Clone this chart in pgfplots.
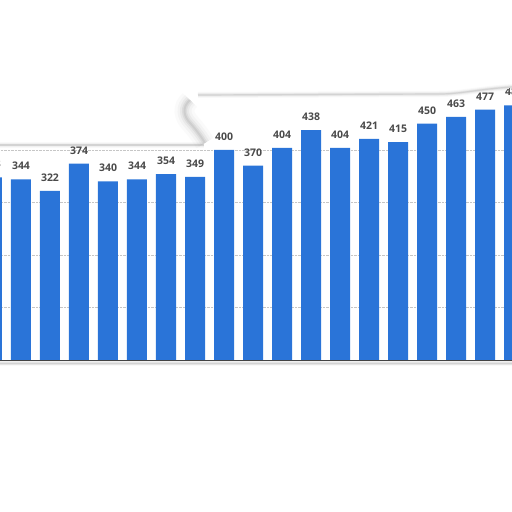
\documentclass[border=0pt]{standalone}
\usepackage{pgfplots}
\pgfplotsset{compat=1.18}
\usepackage{fontspec}
\setmainfont{Open Sans}
\definecolor{barblue}{HTML}{2A74D8}
\definecolor{lbl}{HTML}{4A4A4A}
\begin{document}
\begin{tikzpicture}[x=1pt,y=1pt]
\useasboundingbox (0,0) rectangle (512,512);
\begin{scope}
\clip (0,150) -- (512,150) -- (512,424) .. controls (480,422) and (460,417) .. (440,417) -- (200,416)
  .. controls (192,416) and (186,412) .. (186,405) .. controls (186,390) and (200,380) .. (206,366) -- (0,366) -- cycle;
\begin{axis}[
  at={(-37pt,152pt)}, anchor=south west,
  scale only axis, width=580pt, height=262.5pt,
  xmin=-1, xmax=19, ymin=0, ymax=500,
  axis line style={draw=none},
  xtick=\empty,
  ytick={100,200,300,400}, yticklabels={}, ytick style={draw=none},
  ymajorgrids, major grid style={densely dotted, gray!45, line width=0.6pt},
  ybar, bar width=20pt,
  nodes near coords,
  /pgf/number format/assume math mode=true,
  every node near coord/.append style={font=\bfseries\fontsize{10.5}{12}\selectfont, text=lbl, yshift=6pt, /pgf/number format/assume math mode=true},
  clip=false,
]
\addplot[fill=barblue, draw=none] coordinates {
(0,348) (1,344) (2,322) (3,374) (4,340) (5,344) (6,354) (7,349) (8,400) (9,370)
(10,404) (11,438) (12,404) (13,421) (14,415) (15,450) (16,463) (17,477) (18,485)};
\draw[black!75, line width=0.8pt] (axis cs:-1,0) -- (axis cs:19,0);
\end{axis}
\end{scope}
% torn paper shadows
\foreach \w/\o in {6/0.05, 4/0.07, 2.5/0.1, 1.2/0.18}{
  \draw[gray, line width=\w pt, opacity=\o] (0,367) -- (204,367);
  \draw[gray, line width=\w pt, opacity=\o] (0,148.5) -- (512,148.5);
  \draw[gray, line width=\w pt, opacity=\o] (198,417) -- (440,418) .. controls (460,418) and (480,423) .. (512,425);
}
\foreach \w/\o in {20/0.04, 14/0.06, 9/0.09, 5/0.12, 2/0.15}{
  \draw[gray, line width=\w pt, opacity=\o] (190,412) .. controls (182,405) and (183,396) .. (191,388) .. controls (198,380) and (202,374) .. (205,369);
}
\end{tikzpicture}
\end{document}
